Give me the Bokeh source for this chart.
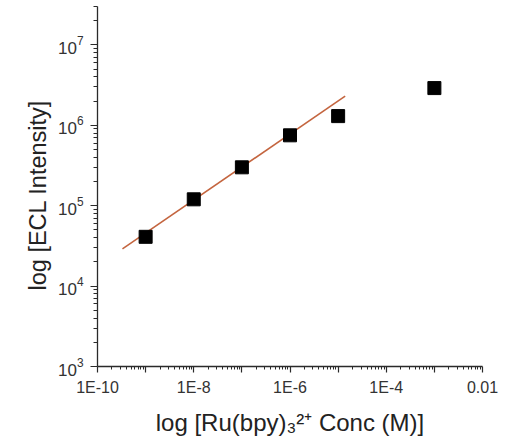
from bokeh.plotting import figure
from bokeh.models import Range1d, FixedTicker, Title
from bokeh.embed import file_html
from bokeh.resources import INLINE

# ---- data ----
conc = [1e-9, 1e-8, 1e-7, 1e-6, 1e-5, 1e-3]
intensity = [4.1e4, 1.2e5, 3.0e5, 7.5e5, 1.3e6, 2.9e6]
fit_conc = [3.3e-10, 1.4e-5]
fit_intensity = [2.9e4, 2.3e6]

x_ticks = [1e-10, 1e-9, 1e-8, 1e-7, 1e-6, 1e-5, 1e-4, 1e-3, 1e-2]
x_tick_labels = ["1E-10", "", "1E-8", "", "1E-6", "", "1E-4", "", "0.01"]
y_ticks = [1e3, 1e4, 1e5, 1e6, 1e7]

x_title = "log [Ru(bpy)\u2083\u00b2\u207a Conc (M)]"
y_title = "log [ECL Intensity]"

x_minor = [m * 10.0 ** e for e in range(-10, -2) for m in range(2, 10)]
y_minor = [m * 10.0 ** e for e in range(3, 8) for m in range(2, 10)]

FONT = "Liberation Sans"
AX = "#2a2a2a"
TC = "#222222"
W, H = 513, 442

p = figure(width=W, height=H, x_axis_type="log", y_axis_type="log",
           x_range=Range1d(1e-10, 1e-2), y_range=Range1d(1e3, 3e7),
           output_backend="svg", toolbar_location=None,
           min_border_left=97, min_border_right=31, min_border_top=6,
           min_border_bottom=76)
p.outline_line_color = None
p.grid.visible = False
p.background_fill_color = "white"
p.border_fill_color = "white"

p.xaxis.ticker = FixedTicker(ticks=x_ticks, minor_ticks=x_minor)
p.xaxis.major_label_overrides = dict(zip(x_ticks, x_tick_labels))
p.yaxis.ticker = FixedTicker(ticks=y_ticks, minor_ticks=y_minor)

for ax in (p.xaxis[0], p.yaxis[0]):
    ax.axis_line_color = AX
    ax.axis_line_width = 1.3
    ax.major_tick_line_color = AX
    ax.minor_tick_line_color = AX
    ax.major_tick_line_width = 1.2
    ax.minor_tick_line_width = 1
    ax.major_tick_in = 0
    ax.minor_tick_in = 0
    ax.major_label_text_font = FONT
    ax.major_label_text_color = "#333333"

p.xaxis.major_label_text_font_size = "16px"
p.yaxis.major_label_text_font_size = "17px"
p.xaxis.major_tick_out = 6
p.xaxis.minor_tick_out = 3
p.xaxis.major_label_standoff = 6
p.yaxis.major_tick_out = 7
p.yaxis.minor_tick_out = 4
p.yaxis.major_label_standoff = 7

# x axis title
p.xaxis.axis_label = x_title
p.xaxis.axis_label_text_font = FONT
p.xaxis.axis_label_text_font_size = "24px"
p.xaxis.axis_label_text_font_style = "normal"
p.xaxis.axis_label_text_color = TC
p.xaxis.axis_label_standoff = 10

# y axis title as a side title so that it can sit a little below centre
p.add_layout(Title(text=y_title, align="left", offset=76, standoff=8,
                   text_font=FONT, text_font_size="23.5px",
                   text_font_style="normal", text_color=TC), "left")

# fit line and data points
p.line(fit_conc, fit_intensity, line_color="#c4653f", line_width=1.6)
p.scatter(conc, intensity, marker="square", size=13, fill_color="black",
          line_color="black")

open("out.html", "w").write(file_html(p, INLINE))
